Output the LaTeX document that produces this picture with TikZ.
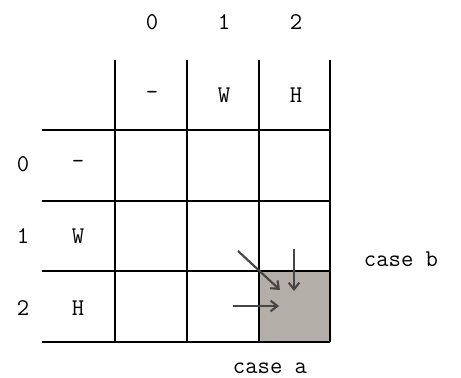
\documentclass[tikz,border=0pt]{standalone}
\usetikzlibrary{arrows.meta}
\definecolor{cellgray}{RGB}{180,174,168}
\definecolor{arrowgray}{RGB}{70,70,70}
\begin{document}
\begin{tikzpicture}[x=0.75pt,y=-0.75pt,
  lbl/.style={font=\ttfamily\fontsize{18}{21}\selectfont, inner sep=0pt},
  gridline/.style={line width=1.7pt},
  steparrow/.style={draw=arrowgray, line width=1.6pt, -{Straight Barb[length=5pt,width=8pt]}}]
  \useasboundingbox (0,0) rectangle (461,378);
  % the cell being filled
  \fill[cellgray] (259,271) rectangle (330,342);
  \foreach \x in {115,187,259,330} \draw[gridline] (\x,60) -- (\x,342);
  \foreach \y in {130,201,271,342} \draw[gridline] (42,\y) -- (330,\y);
  % indices and letters
  \foreach \i/\c/\t in {0/152/-,1/224/W,2/296/H} {
    \node[lbl] (h\i) at (\c,22) {\i};
    \node[lbl] (t\i) at (\c,95) {\t};
  }
  \foreach \i/\r/\t in {0/164/-,1/236/W,2/308/H} {
    \node[lbl] (r\i) at (23,\r) {\i};
    \node[lbl] (s\i) at (78,\r) {\t};
  }
  \coordinate (diagfrom) at (238,251); \coordinate (diagto) at (280,290);
  \coordinate (upfrom) at (294,249);   \coordinate (upto) at (294,291);
  \coordinate (leftfrom) at (233,306); \coordinate (leftto) at (279,306);
  \draw[steparrow] (diagfrom) -- (diagto);
  \draw[steparrow] (upfrom) -- (upto);
  \draw[steparrow] (leftfrom) -- (leftto);
  \node[lbl] (caseb) at (401,259) {case b};
  \node[lbl] (casea) at (270,368) {case a};
\end{tikzpicture}
\end{document}
